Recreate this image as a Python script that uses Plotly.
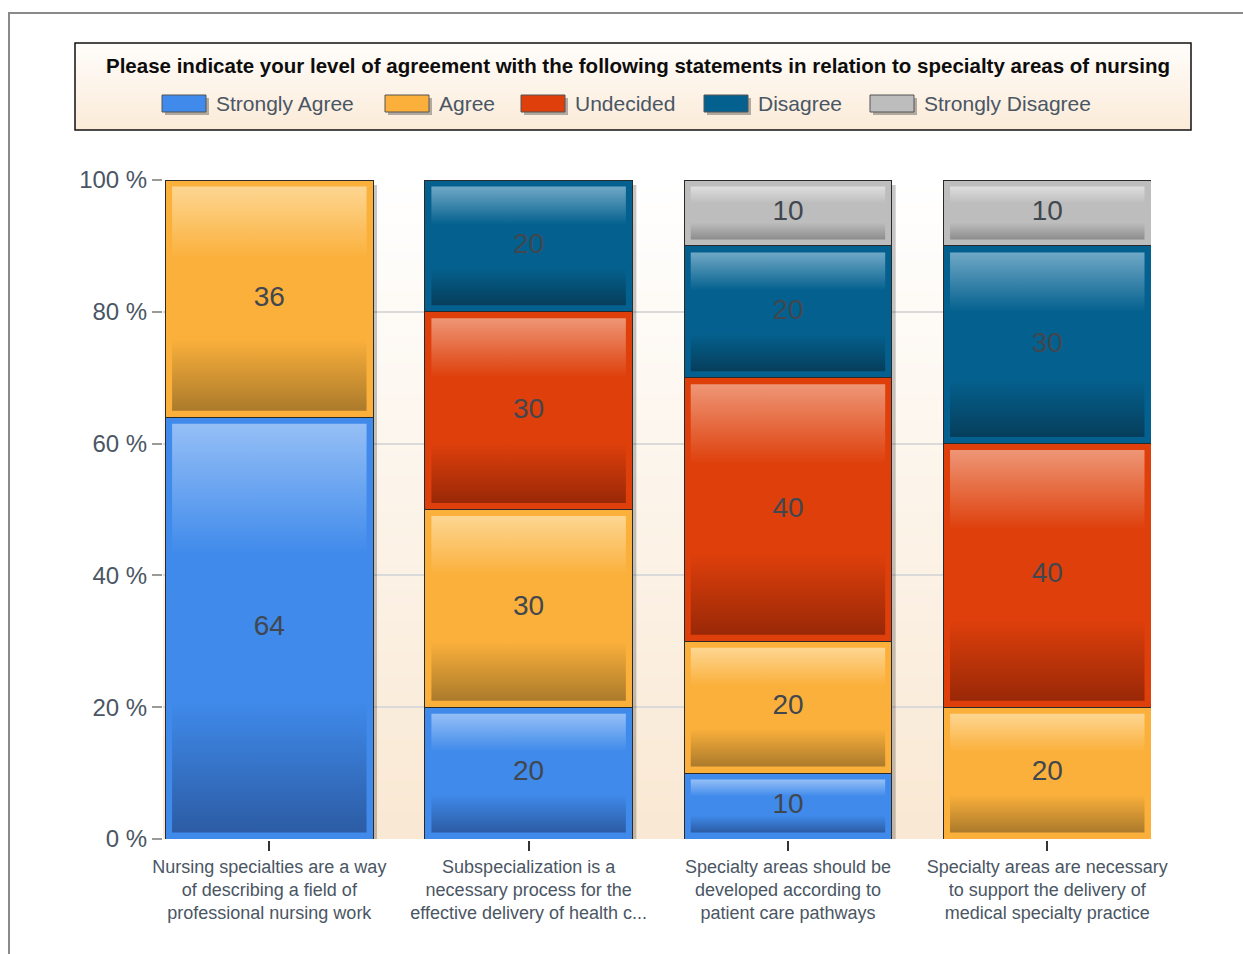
import base64
import struct
import zlib

import plotly.graph_objects as go

# ---- data -------------------------------------------------------------
categories = [
    "Nursing specialties are a way<br>of describing a field of<br>professional nursing work",
    "Subspecialization is a<br>necessary process for the<br>effective delivery of health c...",
    "Specialty areas should be<br>developed according to<br>patient care pathways",
    "Specialty areas are necessary<br>to support the delivery of<br>medical specialty practice",
]
series_names = ["Strongly Agree", "Agree", "Undecided", "Disagree", "Strongly Disagree"]
strongly_agree = [64, 20, 10, 0]
agree = [36, 30, 20, 20]
undecided = [0, 30, 40, 40]
disagree = [0, 20, 20, 30]
strongly_disagree = [0, 0, 10, 10]
y_ticks = [0, 20, 40, 60, 80, 100]
y_tick_labels = ["0 %", "20 %", "40 %", "60 %", "80 %", "100 %"]
chart_title = ("Please indicate your level of agreement with the following "
               "statements in relation to specialty areas of nursing")

series_values = [strongly_agree, agree, undecided, disagree, strongly_disagree]

# ---- styling ----------------------------------------------------------
# (rim colour, top highlight, bottom shade)
palette = [
    ("#3f8aeb", "#95bff6", "#2c5ca4"),
    ("#fbb03b", "#fdd692", "#ab7a2b"),
    ("#de3f0b", "#ee9676", "#992807"),
    ("#04618f", "#70a8c6", "#063e5c"),
    ("#bdbdbd", "#dedede", "#8d8d8d"),
]
FONT = "Liberation Sans, Arial, sans-serif"
TEXT_GREY = "#4a5664"

W, H = 1243, 954
ML, MR, MT, MB = 163, 92, 180, 115
PW, PH = W - ML - MR, H - MT - MB
X_RANGE = [-0.41, 3.40]
Y_RANGE = [0, 100]
BAR_W = 0.8

x_per_px = (X_RANGE[1] - X_RANGE[0]) / PW
y_per_px = (Y_RANGE[1] - Y_RANGE[0]) / PH


def fx(px):
    return (px - ML) / PW


def fy(py):
    return (H - MB - py) / PH


def gradient_png(top, bottom, n=128):
    """Tiny vertical gradient PNG as a data URI."""
    def hex2rgb(h):
        h = h.lstrip("#")
        return [int(h[i:i + 2], 16) for i in (0, 2, 4)]
    a, b = hex2rgb(top), hex2rgb(bottom)
    raw = b""
    for i in range(n):
        t = i / (n - 1)
        px = bytes(round(a[k] + (b[k] - a[k]) * t) for k in range(3))
        raw += b"\x00" + px * 2

    def chunk(tag, data):
        return (struct.pack(">I", len(data)) + tag + data
                + struct.pack(">I", zlib.crc32(tag + data) & 0xFFFFFFFF))

    png = (b"\x89PNG\r\n\x1a\n"
           + chunk(b"IHDR", struct.pack(">IIBBBBB", 2, n, 8, 2, 0, 0, 0))
           + chunk(b"IDAT", zlib.compress(raw))
           + chunk(b"IEND", b""))
    return "data:image/png;base64," + base64.b64encode(png).decode()


fig = go.Figure()
xs = list(range(len(categories)))

# soft drop shadow to the right of each column
totals = [sum(v[i] for v in series_values) for i in xs]
sx, sy = [], []
for i, tot in zip(xs, totals):
    x0 = i - BAR_W / 2 + 5 * x_per_px
    x1 = i + BAR_W / 2 + 4 * x_per_px
    y1 = tot - 5 * y_per_px
    sx += [x0, x1, x1, x0, x0, None]
    sy += [0, 0, y1, y1, 0, None]
fig.add_trace(go.Scatter(x=sx, y=sy, mode="lines", fill="toself",
                         fillcolor="rgba(0,0,0,0.22)", line=dict(width=0),
                         hoverinfo="skip", showlegend=False, zorder=-1))

# stacked bars (rim colour + dark outline)
for name, vals, (rim, _, _) in zip(series_names, series_values, palette):
    fig.add_trace(go.Bar(
        name=name, x=xs, y=[v if v else None for v in vals],
        width=BAR_W, marker=dict(color=rim, line=dict(color="#2a2a2a", width=1)),
        showlegend=False, hovertemplate=name + ": %{y}<extra></extra>",
    ))

# glossy inner panels
ix = 6.5 * x_per_px
iy = 6.5 * y_per_px
base = [0] * len(xs)
label_x, label_y, label_t = [], [], []
for vals, (rim, hi, lo) in zip(series_values, palette):
    for i, v in zip(xs, vals):
        if v:
            b0, b1 = base[i], base[i] + v
            x0, x1 = i - BAR_W / 2 + ix, i + BAR_W / 2 - ix
            y0, y1 = b0 + iy, b1 - iy
            fig.add_trace(go.Scatter(
                x=[x0, x1, x1, x0, x0], y=[y0, y0, y1, y1, y0],
                mode="lines", fill="toself", line=dict(width=0),
                fillgradient=dict(type="vertical", colorscale=[
                    [0, lo], [0.32, rim], [0.68, rim], [1, hi]]),
                hoverinfo="skip", showlegend=False))
            label_x.append(i)
            label_y.append(b0 + v / 2)
            label_t.append(str(v))
        base[i] += v

fig.add_trace(go.Scatter(x=label_x, y=label_y, text=label_t, mode="text",
                         textfont=dict(family=FONT, size=28, color="#41474e"),
                         hoverinfo="skip", showlegend=False))

# ---- backgrounds, frame and legend panel -----------------------------
images = [
    dict(source=gradient_png("#ffffff", "#f9e8d3"), xref="paper", yref="paper",
         x=0, y=1, sizex=1, sizey=1, sizing="stretch", layer="below",
         xanchor="left", yanchor="top"),
    dict(source=gradient_png("#fffdfb", "#fbebd8"), xref="paper", yref="paper",
         x=fx(75), y=fy(43), sizex=(1191 - 75) / PW, sizey=(130 - 43) / PH,
         sizing="stretch", layer="below", xanchor="left", yanchor="top"),
]

shapes = [
    dict(type="rect", xref="paper", yref="paper", x0=fx(9), x1=fx(1300),
         y0=fy(13), y1=fy(1000), line=dict(color="#8a8a8a", width=2),
         fillcolor="rgba(0,0,0,0)", layer="above"),
    dict(type="rect", xref="paper", yref="paper", x0=fx(75), x1=fx(1191),
         y0=fy(43), y1=fy(130), line=dict(color="#111111", width=1.5),
         fillcolor="rgba(0,0,0,0)", layer="above"),
]

annotations = [
    dict(text="<b>" + chart_title + "</b>", xref="paper", yref="paper",
         x=fx(638), y=fy(66), xanchor="center", yanchor="middle", showarrow=False,
         font=dict(family=FONT, size=20.5, color="#0d0d0d")),
]

# legend row: swatch left edges in pixels
legend_left = [162, 385, 521, 704, 870]
SW_W, SW_Y0, SW_Y1 = 44, 95, 112
for name, left, (rim, _, _) in zip(series_names, legend_left, palette):
    shapes.append(dict(type="rect", xref="paper", yref="paper",
                       x0=fx(left + 3), x1=fx(left + SW_W + 3),
                       y0=fy(SW_Y0 + 3), y1=fy(SW_Y1 + 3),
                       fillcolor="rgba(40,40,40,0.35)", line=dict(width=0),
                       layer="above"))
    shapes.append(dict(type="rect", xref="paper", yref="paper",
                       x0=fx(left), x1=fx(left + SW_W), y0=fy(SW_Y0), y1=fy(SW_Y1),
                       fillcolor=rim, line=dict(color="#555555", width=1),
                       layer="above"))
    annotations.append(dict(text=name, xref="paper", yref="paper",
                            x=fx(left + SW_W + 8), y=fy(104), xanchor="left",
                            yanchor="middle", showarrow=False,
                            font=dict(family=FONT, size=21, color=TEXT_GREY)))

fig.update_layout(
    width=W, height=H,
    margin=dict(l=ML, r=MR, t=MT, b=MB, autoexpand=False),
    paper_bgcolor="#ffffff", plot_bgcolor="rgba(0,0,0,0)",
    barmode="stack", bargap=0.2, showlegend=False,
    images=images, shapes=shapes, annotations=annotations,
    xaxis=dict(range=X_RANGE, tickvals=xs, ticktext=categories,
               showgrid=False, zeroline=False, showline=True,
               linecolor="#111111", linewidth=2, ticks="outside",
               ticklen=10, tickwidth=2, tickcolor="#333333",
               tickfont=dict(family=FONT, size=18, color=TEXT_GREY)),
    yaxis=dict(range=Y_RANGE, tickvals=y_ticks, ticktext=y_tick_labels,
               showgrid=True, gridcolor="#dadada", gridwidth=1.5,
               zeroline=False, showline=False, ticks="outside",
               ticklen=10, tickwidth=1.5, tickcolor="#9a9a9a",
               tickfont=dict(family=FONT, size=24, color=TEXT_GREY)),
)

fig.write_html("out.html")
